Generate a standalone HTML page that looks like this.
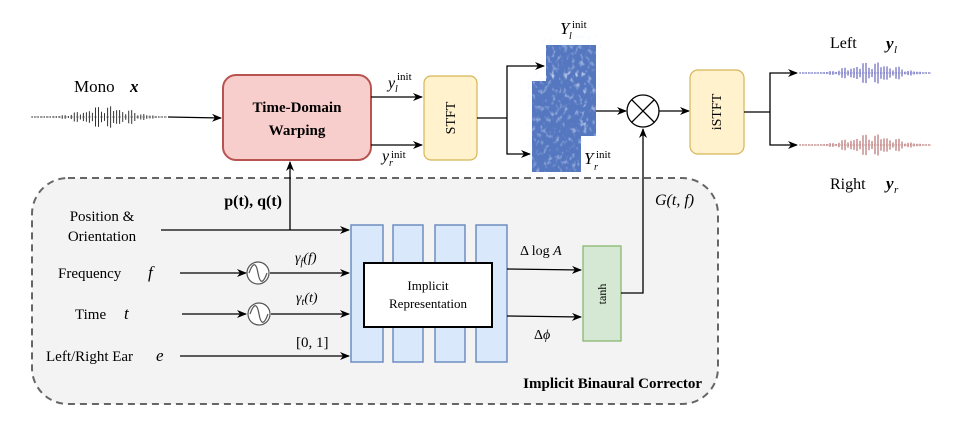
<!DOCTYPE html>
<html><head><meta charset="utf-8"><style>
html,body{margin:0;padding:0;background:#fff;width:972px;height:421px;overflow:hidden}
svg{display:block}
text{font-family:"Liberation Serif",serif;fill:#000}
.m{font-style:italic}
</style></head><body>
<svg id="s" width="972" height="421" viewBox="0 0 972 421" xmlns="http://www.w3.org/2000/svg">
<defs>
<marker id="a" markerWidth="10" markerHeight="8" refX="9" refY="4" orient="auto" markerUnits="userSpaceOnUse"><path d="M0,0 L10,4 L0,8 L3,4 Z" fill="#000"/></marker>
<filter id="n"><feTurbulence type="fractalNoise" baseFrequency="0.25 0.18" numOctaves="2" seed="5"/><feColorMatrix values="0 0 0 0 0.8  0 0 0 0 0.87  0 0 0 0 1  0 0 0 1.6 -0.85"/></filter>
</defs>
<rect x="32" y="178" width="686" height="226" rx="36" fill="#f3f3f3" stroke="#666" stroke-width="2" stroke-dasharray="7,5"/>
<text x="702" y="388" text-anchor="end" font-size="15" font-weight="bold" fill="#333">Implicit Binaural Corrector</text>

<text x="74" y="92" font-size="17">Mono</text><text x="130" y="92" font-size="17" class="m" font-weight="bold">x</text>
<g id="wmono"></g>
<line x1="168" y1="117" x2="221" y2="118" stroke="#000" stroke-width="1.3" marker-end="url(#a)"/>
<rect x="223" y="75" width="148" height="85" rx="13" fill="#f8cecc" stroke="#b85450" stroke-width="2"/>
<text x="297" y="112" text-anchor="middle" font-size="15" font-weight="bold">Time-Domain</text>
<text x="297" y="135" text-anchor="middle" font-size="15" font-weight="bold">Warping</text>
<line x1="371" y1="97" x2="422" y2="97" stroke="#000" stroke-width="1.3" marker-end="url(#a)"/>
<line x1="371" y1="145" x2="422" y2="145" stroke="#000" stroke-width="1.3" marker-end="url(#a)"/>
<text x="388" y="88" font-size="16" class="m">y</text><text x="395" y="92" font-size="10" class="m">l</text><text x="397" y="80" font-size="11">init</text>
<text x="382" y="161" font-size="16" class="m">y</text><text x="389" y="166" font-size="10" class="m">r</text><text x="391" y="158" font-size="11">init</text>
<rect x="424" y="76" width="53" height="84" rx="7" fill="#fff2cc" stroke="#d6b656" stroke-width="1.2"/>
<text transform="translate(455,118) rotate(-90)" text-anchor="middle" font-size="14">STFT</text>
<polyline points="477,118 507,118" fill="none" stroke="#000" stroke-width="1.3"/>
<polyline points="507,118 507,66 544,66" fill="none" stroke="#000" stroke-width="1.3" marker-end="url(#a)"/>
<polyline points="507,118 507,154 530,154" fill="none" stroke="#000" stroke-width="1.3" marker-end="url(#a)"/>
<rect x="546" y="45" width="50" height="91" fill="#5577c0"/><rect x="546" y="45" width="50" height="91" filter="url(#n)"/>
<rect x="532" y="81" width="49" height="91" fill="#5577c0"/><rect x="532" y="81" width="49" height="91" filter="url(#n)"/>
<text x="560" y="34" font-size="17" class="m">Y</text><text x="569" y="39" font-size="10" class="m">l</text><text x="572" y="28" font-size="11">init</text>
<text x="584" y="164" font-size="17" class="m">Y</text><text x="594" y="170" font-size="10" class="m">r</text><text x="596" y="158" font-size="11">init</text>
<line x1="596" y1="111" x2="626" y2="111" stroke="#000" stroke-width="1.3" marker-end="url(#a)"/>
<circle cx="643" cy="111" r="16" fill="#fff" stroke="#000" stroke-width="1.3"/>
<line x1="632" y1="100" x2="654" y2="122" stroke="#000" stroke-width="1.3"/><line x1="654" y1="100" x2="632" y2="122" stroke="#000" stroke-width="1.3"/>
<line x1="659" y1="111" x2="689" y2="111" stroke="#000" stroke-width="1.3" marker-end="url(#a)"/>
<rect x="690" y="70" width="54" height="84" rx="8" fill="#fff2cc" stroke="#d6b656" stroke-width="1.2"/>
<text transform="translate(721,112) rotate(-90)" text-anchor="middle" font-size="14">iSTFT</text>
<polyline points="744,112 770,112" fill="none" stroke="#000" stroke-width="1.3"/>
<polyline points="770,112 770,73 797,73" fill="none" stroke="#000" stroke-width="1.3" marker-end="url(#a)"/>
<polyline points="770,112 770,145 797,145" fill="none" stroke="#000" stroke-width="1.3" marker-end="url(#a)"/>
<g id="wl"></g><g id="wr"></g>
<text x="830" y="48" font-size="16">Left</text><text x="886" y="49" font-size="17" class="m" font-weight="bold">y</text><text x="894" y="53" font-size="11" class="m">l</text>
<text x="830" y="189" font-size="16">Right</text><text x="886" y="189" font-size="17" class="m" font-weight="bold">y</text><text x="894" y="193" font-size="11" class="m">r</text>

<line x1="290" y1="230" x2="290" y2="162" stroke="#000" stroke-width="1.3" marker-end="url(#a)"/>
<text x="282" y="206" text-anchor="end" font-size="16" font-weight="bold">p(t), q(t)</text>
<text x="102" y="221" text-anchor="middle" font-size="15">Position &amp;</text>
<text x="102" y="241" text-anchor="middle" font-size="15">Orientation</text>
<line x1="161" y1="230" x2="349" y2="230" stroke="#000" stroke-width="1.3" marker-end="url(#a)"/>
<text x="58" y="278" font-size="15">Frequency</text><text x="148" y="278" font-size="17" class="m">f</text>
<line x1="180" y1="273" x2="246" y2="273" stroke="#000" stroke-width="1.3" marker-end="url(#a)"/>
<text x="75" y="319" font-size="15">Time</text><text x="124" y="319" font-size="17" class="m">t</text>
<line x1="182" y1="314" x2="246" y2="314" stroke="#000" stroke-width="1.3" marker-end="url(#a)"/>
<g stroke="#555" stroke-width="1.2" fill="#fff">
<circle cx="258" cy="273" r="11"/><path d="M249,273 C253,262 256,262 258,273 S263,284 267,273" fill="none"/>
<circle cx="259" cy="314" r="11"/><path d="M250,314 C254,303 257,303 259,314 S264,325 268,314" fill="none"/>
</g>
<line x1="270" y1="273" x2="349" y2="273" stroke="#000" stroke-width="1.3" marker-end="url(#a)"/>
<line x1="271" y1="314" x2="349" y2="314" stroke="#000" stroke-width="1.3" marker-end="url(#a)"/>
<text x="295" y="262" font-size="14" class="m">γ<tspan font-size="10" dy="3">f</tspan><tspan dy="-3">(f)</tspan></text>
<text x="296" y="302" font-size="14" class="m">γ<tspan font-size="10" dy="3">t</tspan><tspan dy="-3">(t)</tspan></text>
<text x="296" y="347" font-size="15">[0, 1]</text>
<text x="46" y="361" font-size="15">Left/Right Ear</text><text x="156" y="361" font-size="17" class="m">e</text>
<line x1="180" y1="356" x2="349" y2="356" stroke="#000" stroke-width="1.3" marker-end="url(#a)"/>
<g fill="#dae8fc" stroke="#6c8ebf" stroke-width="1.5">
<rect x="351" y="225" width="32" height="137"/><rect x="393" y="225" width="30" height="137"/>
<rect x="435" y="225" width="30" height="137"/><rect x="476" y="225" width="31" height="137"/>
</g>
<rect x="364" y="263" width="128" height="64" fill="#fff" stroke="#000" stroke-width="2"/>
<text x="428" y="290" text-anchor="middle" font-size="13">Implicit</text>
<text x="428" y="308" text-anchor="middle" font-size="13">Representation</text>
<line x1="507" y1="269" x2="581" y2="270" stroke="#000" stroke-width="1.3" marker-end="url(#a)"/>
<line x1="507" y1="316" x2="581" y2="317" stroke="#000" stroke-width="1.3" marker-end="url(#a)"/>
<text x="520" y="255" font-size="14">Δ log <tspan class="m">A</tspan></text>
<text x="534" y="339" font-size="14">Δ<tspan class="m">ϕ</tspan></text>
<rect x="583" y="246" width="38" height="95" fill="#d5e8d4" stroke="#82b366" stroke-width="1.2"/>
<text transform="translate(606,294) rotate(-90)" text-anchor="middle" font-size="12">tanh</text>
<polyline points="621,293 643,293 643,129" fill="none" stroke="#000" stroke-width="1.3" marker-end="url(#a)"/>
<text x="655" y="205" font-size="16" class="m">G(t, f)</text>
</svg>
<script>
function wave(id,x0,x1,yc,amp,col){
 var g=document.getElementById(id),s='',n=Math.floor((x1-x0)/3);
 s+='<line x1="'+x0+'" y1="'+yc+'" x2="'+x1+'" y2="'+yc+'" stroke="'+col+'" stroke-width="0.6" stroke-dasharray="1,1"/>';
 for(var i=0;i<n;i++){var x=x0+i*(x1-x0)/n,t=i/n;
  var env=Math.exp(-Math.pow((t-0.55)/0.25,2))*(0.35+0.65*Math.abs(Math.sin(i*2.3+1)))*(0.5+0.5*Math.abs(Math.sin(i*0.53)));
  var h=Math.max(0.8,amp*env);
  s+='<line x1="'+x.toFixed(1)+'" y1="'+(yc-h).toFixed(1)+'" x2="'+x.toFixed(1)+'" y2="'+(yc+h).toFixed(1)+'" stroke="'+col+'" stroke-width="1"/>';}
 g.innerHTML=s;
}
wave('wmono',32,168,117,12,'#333');
wave('wl',800,932,73,12,'#4848b0');
wave('wr',800,932,145,12,'#a85555');
</script>
</body></html>
